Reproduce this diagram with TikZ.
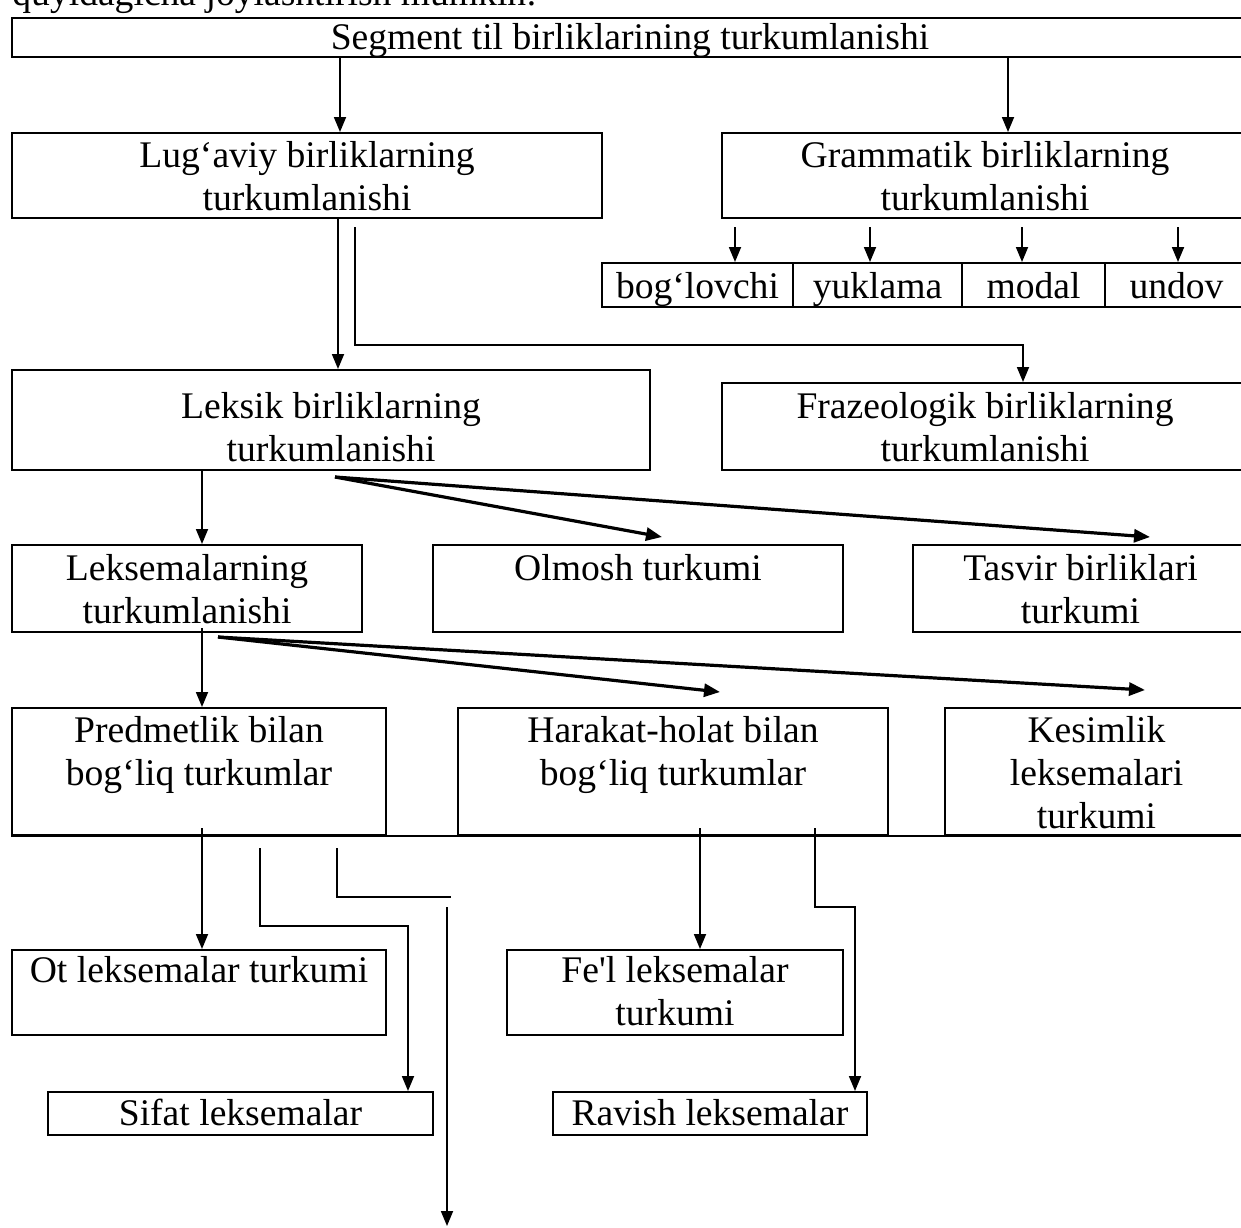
\documentclass[tikz,border=0pt]{standalone}
\usepackage{fontspec}
\setmainfont{Liberation Serif}[Ligatures=TeXOff]
\usetikzlibrary{arrows.meta,positioning,calc,fit}
\newcommand\boxfont{\fontsize{18.8pt}{21.5pt}\selectfont}

\begin{document}
\begin{tikzpicture}[x=.5pt,y=-.5pt,
  box/.style={draw,line width=1pt,inner sep=0pt},
  txt/.style={align=center,inner sep=0pt,font=\boxfont},
  arr/.style={-{Triangle[length=7.5pt,width=6pt]},line width=.9pt},
  darr/.style={-{Triangle[length=8pt,width=6.5pt]},line width=1.6pt},
  link/.style={line width=.9pt}]
\path[use as bounding box,clip] (0,0) rectangle (1241,1227);
\node[txt,anchor=base west] (intro) at (12,5) {quyidagicha joylashtirish mumkin:};

% top level
\node[box,fit={(12,18) (1248,57)}] (seg) {};
\node[txt,below=3pt of seg.north] (seg-t) {Segment til birliklarining turkumlanishi};
\node[box,fit={(12,133) (602,218)}] (lug) {};
\node[txt,below=4.5pt of lug.north] (lug-t) {Lug‘aviy birliklarning\\turkumlanishi};
\node[box,fit={(722,133) (1248,218)}] (gram) {};
\node[txt,below=4.5pt of gram.north] (gram-t) {Grammatik birliklarning\\turkumlanishi};

% grammatik cells
\node[box,fit={(602,263) (793,307)}] (bog) {};
\node[txt,below=5pt of bog.north] (bog-t) {bog‘lovchi};
\node[box,fit={(793,263) (962,307)}] (yuk) {};
\node[txt,below=5pt of yuk.north] (yuk-t) {yuklama};
\node[box,fit={(962,263) (1105,307)}] (mod) {};
\node[txt,below=5pt of mod.north] (mod-t) {modal};
\node[box,fit={(1105,263) (1248,307)}] (und) {};
\node[txt,below=5pt of und.north] (und-t) {undov};

% leksik / frazeologik
\node[box,fit={(12,370) (650,470)}] (leks) {};
\node[txt,below=11.5pt of leks.north] (leks-t) {Leksik birliklarning\\turkumlanishi};
\node[box,fit={(722,383) (1248,470)}] (fraz) {};
\node[txt,below=5pt of fraz.north] (fraz-t) {Frazeologik birliklarning\\turkumlanishi};

% fourth row
\node[box,fit={(12,545) (362,632)}] (lekm) {};
\node[txt,below=5pt of lekm.north] (lekm-t) {Leksemalarning\\turkumlanishi};
\node[box,fit={(433,545) (843,632)}] (olm) {};
\node[txt,below=5pt of olm.north] (olm-t) {Olmosh turkumi};
\node[box,fit={(913,545) (1248,632)}] (tasv) {};
\node[txt,below=5pt of tasv.north] (tasv-t) {Tasvir birliklari\\turkumi};

% fifth row
\node[box,fit={(12,708) (386,835)}] (pred) {};
\node[txt,below=4.5pt of pred.north] (pred-t) {Predmetlik bilan\\bog‘liq turkumlar};
\node[box,fit={(458,708) (888,835)}] (hara) {};
\node[txt,below=4.5pt of hara.north] (hara-t) {Harakat-holat bilan\\bog‘liq turkumlar};
\node[box,fit={(945,708) (1248,835)}] (kesi) {};
\node[txt,below=4.5pt of kesi.north] (kesi-t) {Kesimlik\\leksemalari\\turkumi};
\draw[line width=1pt] (pred.south west) -- (kesi.south east);

% lowest rows
\node[box,fit={(12,950) (386,1035)}] (ot) {};
\node[txt,below=3.5pt of ot.north] (ot-t) {Ot leksemalar turkumi};
\node[box,fit={(507,950) (843,1035)}] (fel) {};
\node[txt,below=3.5pt of fel.north] (fel-t) {Fe'l leksemalar\\turkumi};
\node[box,fit={(48,1092) (433,1135)}] (sif) {};
\node[txt,below=4pt of sif.north] (sif-t) {Sifat leksemalar};
\node[box,fit={(553,1092) (867,1135)}] (rav) {};
\node[txt,below=4pt of rav.north] (rav-t) {Ravish leksemalar};

% connector positions
\coordinate (k1) at (340,0);
\coordinate (k2) at (1008,0);
\coordinate (k3) at (338,0);
\coordinate (k4) at (355,0);
\coordinate (k5) at (202,0);
\coordinate (k6) at (260,0);
\coordinate (k7) at (337,0);
\coordinate (k8) at (700,0);
\coordinate (k9) at (815,0);
\coordinate (g1) at (735,0);
\coordinate (g2) at (870,0);
\coordinate (g3) at (1022,0);
\coordinate (g4) at (1178,0);
\coordinate (e1) at (1023,345);
\coordinate (e2) at (408,926);
\coordinate (e3) at (451,897);
\coordinate (e4) at (447,907);
\coordinate (e5) at (447,1226);
\coordinate (e6) at (855,907);
\coordinate (d1) at (335,477);
\coordinate (d2) at (218,637);
\coordinate (t1) at (662,537);
\coordinate (t2) at (1150,537);
\coordinate (t3) at (720,692);
\coordinate (t4) at (1145,690);

\draw[arr] (seg.south -| k1) -- (lug.north -| k1);
\draw[arr] (seg.south -| k2) -- (gram.north -| k2);
\draw[arr] ([yshift=-4pt]gram.south -| g1) -- (bog.north -| g1);
\draw[arr] ([yshift=-4pt]gram.south -| g2) -- (yuk.north -| g2);
\draw[arr] ([yshift=-4pt]gram.south -| g3) -- (mod.north -| g3);
\draw[arr] ([yshift=-4pt]gram.south -| g4) -- (und.north -| g4);
\draw[arr] (lug.south -| k3) -- (leks.north -| k3);
\draw[arr] ([yshift=-4pt]lug.south -| k4) |- (e1) -- (fraz.north -| e1);
\draw[arr] (leks.south -| k5) -- (lekm.north -| k5);
\draw[darr] (d1) -- (t1);
\draw[darr] (d1) -- (t2);
\draw[arr] ([yshift=2.5pt]lekm.south -| k5) -- (pred.north -| k5);
\draw[darr] (d2) -- (t3);
\draw[darr] (d2) -- (t4);
\draw[arr] ([yshift=4pt]pred.south -| k5) -- (ot.north -| k5);
\draw[arr] ([yshift=-6pt]pred.south -| k6) |- (e2) -- (sif.north -| e2);
\draw[link] ([yshift=-6pt]pred.south -| k7) |- (e3);
\draw[arr] (e4) -- (e5);
\draw[arr] ([yshift=4pt]hara.south -| k8) -- (fel.north -| k8);
\draw[arr] ([yshift=4pt]hara.south -| k9) |- (e6) -- (rav.north -| e6);
\end{tikzpicture}
\end{document}
